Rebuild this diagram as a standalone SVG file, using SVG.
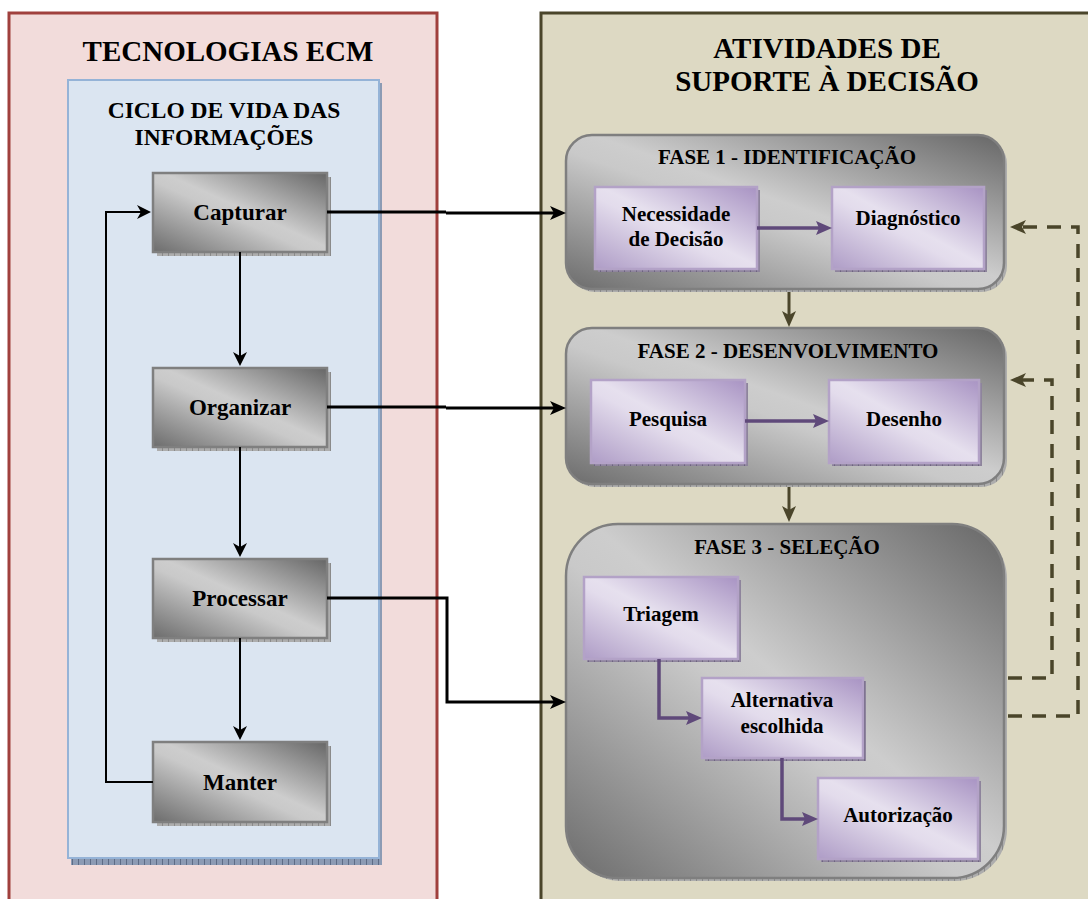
<svg xmlns="http://www.w3.org/2000/svg" width="1088" height="899" viewBox="0 0 1088 899">
<style>
text{font-family:"Liberation Serif","Times New Roman",serif;font-weight:bold;fill:#000;text-anchor:middle}
.t1{font-size:29px}
.t2{font-size:23.5px}
.tb{font-size:23px}
.tf{font-size:21px}
.tp{font-size:21px}
.gbox{fill:url(#gGrey);stroke:#7f7f7f;stroke-width:2.5}
.gsh{fill:url(#pGrey)}
.pbox{fill:url(#gPurple);stroke:#b3a2c7;stroke-width:2.5}
.psh{fill:url(#pPurple)}
.fase{fill:url(#gGrey);stroke:#7f7f7f;stroke-width:2.5}
.blk{fill:none;stroke:#000;stroke-width:2}
.blk3{fill:none;stroke:#000;stroke-width:3}
.pur{fill:none;stroke:#5f497a;stroke-width:3.5}
.olv{fill:none;stroke:#4a452a;stroke-width:3}
.dash{fill:none;stroke:#4a452a;stroke-width:3.5;stroke-dasharray:14 10}
</style>
<defs>
<linearGradient id="gGrey" x1="1" y1="0" x2="0" y2="1">
<stop offset="0" stop-color="#666666"/>
<stop offset="0.47" stop-color="#cdcdcd"/>
<stop offset="0.55" stop-color="#c9c9c9"/>
<stop offset="1" stop-color="#6c6c6c"/>
</linearGradient>
<linearGradient id="gPurple" x1="1" y1="0" x2="0" y2="1">
<stop offset="0" stop-color="#a893c3"/>
<stop offset="0.48" stop-color="#e6e0ee"/>
<stop offset="0.56" stop-color="#e3dcec"/>
<stop offset="1" stop-color="#ae9cc6"/>
</linearGradient>
<pattern id="pGrey" width="6" height="4" patternUnits="userSpaceOnUse">
<rect width="6" height="4" fill="#adadad"/><rect width="1" height="4" fill="#8a8a8a"/>
</pattern>
<pattern id="pPurple" width="6" height="4" patternUnits="userSpaceOnUse">
<rect width="6" height="4" fill="#8e849c"/><rect width="1" height="4" fill="#6e6480"/>
</pattern>
<pattern id="pBlue" width="6" height="4" patternUnits="userSpaceOnUse">
<rect width="6" height="4" fill="#8c9bb4"/><rect width="1" height="4" fill="#5d6c86"/>
</pattern>
<marker id="aBlk" markerUnits="userSpaceOnUse" markerWidth="16" markerHeight="14" refX="10" refY="7" orient="auto">
<path d="M0,0 L16,7 L0,14 L4,7 z" fill="#000"/>
</marker>
<marker id="aBlkS" markerUnits="userSpaceOnUse" markerWidth="14" markerHeight="14" refX="9" refY="7" orient="auto">
<path d="M0,0 L14,7 L0,14 L4,7 z" fill="#000"/>
</marker>
<marker id="aPur" markerUnits="userSpaceOnUse" markerWidth="16" markerHeight="14" refX="10" refY="7" orient="auto">
<path d="M0,0 L16,7 L0,14 L3,7 z" fill="#5f497a"/>
</marker>
<marker id="aOlv" markerUnits="userSpaceOnUse" markerWidth="16" markerHeight="14" refX="10" refY="7" orient="auto">
<path d="M0,0 L16,7 L0,14 L4,7 z" fill="#4a452a"/>
</marker>
</defs>

<rect width="1088" height="899" fill="#ffffff"/>

<g id="panel-ecm">
<rect x="9" y="13" width="428" height="900" fill="#f2dcdb" stroke="#a0403d" stroke-width="3"/>
<text class="t1" x="228" y="61">TECNOLOGIAS ECM</text>
</g>
<g id="panel-ciclo">
<rect x="71" y="83" width="311" height="782" fill="url(#pBlue)"/>
<rect x="68" y="80" width="311" height="778" fill="#dbe5f1" stroke="#95b3d7" stroke-width="2"/>
<text class="t2" x="224" y="118">CICLO DE VIDA DAS</text>
<text class="t2" x="224" y="145">INFORMAÇÕES</text>
</g>
<g id="panel-atividades">
<rect x="541" y="13" width="600" height="900" fill="#ddd9c3" stroke="#4a452a" stroke-width="3"/>
<text class="t1" x="827" y="58">ATIVIDADES DE</text>
<text class="t1" x="827" y="91">SUPORTE À DECISÃO</text>
</g>

<g id="capturar">
<rect class="gsh" x="157" y="177" width="174" height="79"/>
<rect class="gbox" x="153" y="173" width="174" height="79"/>
<text class="tb" x="240" y="220">Capturar</text>
</g>
<g id="organizar">
<rect class="gsh" x="157" y="372" width="174" height="79"/>
<rect class="gbox" x="153" y="368" width="174" height="79"/>
<text class="tb" x="240" y="415">Organizar</text>
</g>
<g id="processar">
<rect class="gsh" x="157" y="563" width="174" height="79"/>
<rect class="gbox" x="153" y="559" width="174" height="79"/>
<text class="tb" x="240" y="606">Processar</text>
</g>
<g id="manter">
<rect class="gsh" x="157" y="746" width="174" height="80"/>
<rect class="gbox" x="153" y="742" width="174" height="80"/>
<text class="tb" x="240" y="790">Manter</text>
</g>

<g id="fase1">
<rect class="gsh" x="569" y="138" width="438" height="154" rx="26"/>
<rect class="fase" x="566" y="135" width="438" height="154" rx="26"/>
<text class="tf" x="787" y="164">FASE 1 - IDENTIFICAÇÃO</text>
</g>
<g id="necessidade">
<rect class="psh" x="598" y="190" width="162" height="82"/>
<rect class="pbox" x="595" y="187" width="162" height="82"/>
<text class="tp" x="676" y="221">Necessidade</text>
<text class="tp" x="676" y="246">de Decisão</text>
</g>
<g id="diagnostico">
<rect class="psh" x="835" y="190" width="152" height="82"/>
<rect class="pbox" x="832" y="187" width="152" height="82"/>
<text class="tp" x="908" y="225">Diagnóstico</text>
</g>

<g id="fase2">
<rect class="gsh" x="569" y="331" width="438" height="156" rx="26"/>
<rect class="fase" x="566" y="328" width="438" height="156" rx="26"/>
<text class="tf" x="788" y="358">FASE 2 - DESENVOLVIMENTO</text>
</g>
<g id="pesquisa">
<rect class="psh" x="594" y="383" width="154" height="83"/>
<rect class="pbox" x="591" y="380" width="154" height="83"/>
<text class="tp" x="668" y="426">Pesquisa</text>
</g>
<g id="desenho">
<rect class="psh" x="832" y="383" width="150" height="83"/>
<rect class="pbox" x="829" y="380" width="150" height="83"/>
<text class="tp" x="904" y="426">Desenho</text>
</g>

<g id="fase3">
<rect class="gsh" x="569" y="527" width="438" height="354" rx="52"/>
<rect class="fase" x="566" y="524" width="438" height="354" rx="52"/>
<text class="tf" x="787" y="554">FASE 3 - SELEÇÃO</text>
</g>
<g id="triagem">
<rect class="psh" x="587" y="580" width="154" height="82"/>
<rect class="pbox" x="584" y="577" width="154" height="82"/>
<text class="tp" x="661" y="621">Triagem</text>
</g>
<g id="alternativa">
<rect class="psh" x="705" y="681" width="161" height="80"/>
<rect class="pbox" x="702" y="678" width="161" height="80"/>
<text class="tp" x="782" y="707">Alternativa</text>
<text class="tp" x="782" y="733">escolhida</text>
</g>
<g id="autorizacao">
<rect class="psh" x="821" y="781" width="160" height="81"/>
<rect class="pbox" x="818" y="778" width="160" height="81"/>
<text class="tp" x="898" y="822">Autorização</text>
</g>

<g id="connectors">
<path class="blk" d="M240,252 V361" marker-end="url(#aBlkS)"/>
<path class="blk" d="M240,447 V552" marker-end="url(#aBlkS)"/>
<path class="blk" d="M240,638 V735" marker-end="url(#aBlkS)"/>
<path class="blk" d="M153,782 H106 V212 H146" marker-end="url(#aBlkS)"/>
<path class="blk3" d="M327,212 H446 M446,213 H560" marker-end="url(#aBlk)"/>
<path class="blk3" d="M327,407 H446 M446,408 H560" marker-end="url(#aBlk)"/>
<path class="blk3" d="M327,598 H447 V702 H560" marker-end="url(#aBlk)"/>
<path class="pur" d="M757,228 H826" marker-end="url(#aPur)"/>
<path class="pur" d="M745,421 H823" marker-end="url(#aPur)"/>
<path class="pur" d="M659,659 V718 H696" marker-end="url(#aPur)"/>
<path class="pur" d="M782,758 V819 H812" marker-end="url(#aPur)"/>
<path class="olv" d="M789,292 V321" marker-end="url(#aOlv)"/>
<path class="olv" d="M789,487 V516" marker-end="url(#aOlv)"/>
<path class="dash" d="M1008,678 H1052 V380 H1016" marker-end="url(#aOlv)"/>
<path class="dash" d="M1008,716 H1078 V227 H1016" marker-end="url(#aOlv)"/>
</g>
</svg>
